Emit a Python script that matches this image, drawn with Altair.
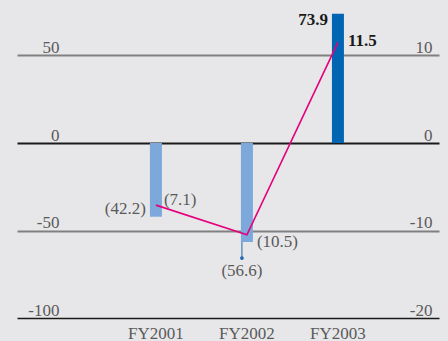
import altair as alt
import pandas as pd

categories = ["FY2001", "FY2002", "FY2003"]
bar_values = [-42.2, -56.6, 73.9]
line_values = [-7.1, -10.5, 11.5]
bar_colors = ["#7ca8db", "#7ca8db", "#0066b3"]
left_ticks = [-100, -50, 0, 50]
right_ticks = [-20, -10, 0, 10]


def fmt(v):
    return f"({abs(v):.1f})" if v < 0 else f"{v:.1f}"


df = pd.DataFrame({
    "cat": categories,
    "bar": bar_values,
    "line": line_values,
    "bar_label": [fmt(v) for v in bar_values],
    "line_label": [fmt(v) for v in line_values],
})

FONT = "Liberation Serif"
LABEL_GRAY = "#5a5a5a"
FS = 17

x_enc = alt.X(
    "cat:N", sort=categories, title=None,
    scale=alt.Scale(paddingInner=0.363, paddingOuter=1, align=0.604),
    axis=alt.Axis(labelAngle=0, domain=False, ticks=False, tickSize=0,
                  labelPadding=20, labelBaseline="alphabetic",
                  labelFont=FONT, labelFontSize=FS, labelColor=LABEL_GRAY,
                  grid=False),
)

y_left = alt.Y(
    "bar:Q", title=None,
    scale=alt.Scale(domain=[-100, 80], nice=False, zero=False),
    axis=alt.Axis(values=left_ticks, domain=False, ticks=False, tickSize=0,
                  labelExpr="toString(datum.value)",
                  labelAlign="right", labelBaseline="alphabetic",
                  labelPadding=-42, labelOffset=-3,
                  labelFont=FONT, labelFontSize=FS, labelColor=LABEL_GRAY,
                  grid=True,
                  gridColor={"condition": {"test": "datum.value === 0 || datum.value === -100",
                                           "value": "#1a1a1a"}, "value": "#808080"},
                  gridWidth={"condition": {"test": "datum.value === -100", "value": 1.4},
                             "value": 2}),
)

y_right = alt.Y(
    "line:Q", title=None,
    scale=alt.Scale(domain=[-20, 16], nice=False, zero=False),
    axis=alt.Axis(orient="right", values=right_ticks, domain=False, ticks=False,
                  tickSize=0, labelAlign="right", labelBaseline="alphabetic",
                  labelExpr="toString(datum.value)",
                  labelPadding=-7, labelOffset=-3,
                  labelFont=FONT, labelFontSize=FS, labelColor=LABEL_GRAY,
                  grid=False),
)

bar_base = alt.Chart(df).encode(x=x_enc, y=y_left)
line_base = alt.Chart(df).encode(x=x_enc, y=y_right)

bars = bar_base.mark_bar(size=12).encode(
    color=alt.Color("cat:N", scale=alt.Scale(domain=categories, range=bar_colors),
                    legend=None)
)


def label(base, field, cat, align, dx, dy, bold=False):
    return base.mark_text(
        align=align, baseline="middle", dx=dx, dy=dy, font=FONT, fontSize=FS,
        fontWeight="bold" if bold else "normal",
        color="#1a1a1a" if bold else LABEL_GRAY,
    ).encode(text=f"{field}:N").transform_filter(alt.datum.cat == cat)


leader = bar_base.mark_rule(color="#1f65ad", strokeWidth=1, xOffset=-5,
                            y2Offset=16).encode(y2="bar:Q").transform_filter(
    alt.datum.cat == "FY2002")
dot = bar_base.mark_circle(size=14, color="#1f65ad", opacity=1, xOffset=-5,
                           yOffset=16).transform_filter(alt.datum.cat == "FY2002")

bar_layer = alt.layer(
    bars,
    leader,
    dot,
    label(bar_base, "bar_label", "FY2001", "right", -10, -8),
    label(bar_base, "bar_label", "FY2002", "center", -5, 29),
    label(bar_base, "bar_label", "FY2003", "right", -10, 6, bold=True),
)

line = line_base.mark_line(color="#e5007e", strokeWidth=1.6)
line_layer = alt.layer(
    line,
    label(line_base, "line_label", "FY2001", "left", 8, -5),
    label(line_base, "line_label", "FY2002", "left", 10, 7),
    label(line_base, "line_label", "FY2003", "left", 10, -1, bold=True),
)

chart = alt.layer(bar_layer, line_layer).resolve_scale(y="independent").properties(
    width=422, height=315,
    background="#e7e7e9",
    autosize=alt.AutoSizeParams(type="none"),
    padding={"left": 17, "top": 3, "right": 9, "bottom": 23},
).configure_view(stroke=None)

chart.save("out.html", embed_options={"renderer": "svg", "actions": False})
